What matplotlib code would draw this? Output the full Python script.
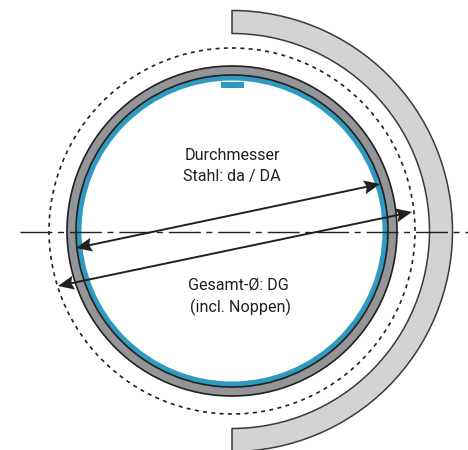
import matplotlib
matplotlib.use('Agg')
from matplotlib import pyplot as plt
from matplotlib.patches import Circle, Wedge, Rectangle, Polygon
import numpy as np

# Centre and radii in picture pixels
centre = (232, 231)
shellInner = 197.5
shellOuter = 220.5
dottedRadius = 183
ringOuter = 165
ringInner = 156
blueInner = 150.5

# Diameter arrows (start, end)
arrowSteel = ((76, 248), (380, 184))
arrowTotal = ((58, 286), (412, 212))
axisY = 232

labels = ['Durchmesser', 'Stahl: da / DA', 'Gesamt-Ø: DG', '(incl. Noppen)']
labelX = [232, 232, 238, 240]
labelY = [156, 177, 285, 307]

plt.rcParams['font.family'] = ['Roboto', 'DejaVu Sans']

dark = '#231f20'


# Notched arrow head with its tip on the line end
def AddHead(ax, tip, away):
    tip = np.array(tip, dtype=float)
    d = np.array(away, dtype=float) - tip
    d = d / np.hypot(*d)
    n = np.array([-d[1], d[0]])
    pts = [tip, tip + 16 * d + 7 * n, tip + 13.5 * d, tip + 16 * d - 7 * n]
    ax.add_patch(Polygon(pts, closed=True, facecolor=dark, edgecolor='none', zorder=8))
    return tip + 10 * d


fig = plt.figure(figsize=(4.68, 4.5), dpi=100)
ax = fig.add_axes([0, 0, 1, 1])
ax.set_xlim(0, 468)
ax.set_ylim(450, 0)
ax.axis('off')

# Outer half shell
ax.add_patch(Wedge(centre, shellOuter, -90, 90, width=shellOuter - shellInner,
                   facecolor='#d1d3d4', edgecolor='#3a3a3c', linewidth=1.1, zorder=1))

# Dotted envelope
ax.add_patch(Circle(centre, dottedRadius, fill=False, edgecolor=dark, linewidth=1.2,
                    linestyle=(0, (2.4, 2.6)), zorder=2))

# Pipe wall, blue lining
ax.add_patch(Circle(centre, ringOuter, facecolor='#939598', edgecolor=dark, linewidth=1.2, zorder=3))
ax.add_patch(Circle(centre, ringInner, facecolor='#2e9abf', edgecolor=dark, linewidth=1.2, zorder=4))
ax.add_patch(Circle(centre, blueInner, facecolor='white', edgecolor='none', zorder=5))
ax.add_patch(Rectangle((221, 81.5), 23, 6, facecolor='#2e9abf', edgecolor='none', zorder=6))

# Centre line
ax.plot([20, 468], [axisY, axisY], color=dark, linewidth=1.0,
        linestyle=(0, (23, 4, 4.3, 4.3)), zorder=7)

for start, end in (arrowSteel, arrowTotal):
    a = AddHead(ax, start, end)
    b = AddHead(ax, end, start)
    ax.plot([a[0], b[0]], [a[1], b[1]], color=dark, linewidth=1.4,
            solid_capstyle='butt', zorder=8)

for text, x, y in zip(labels, labelX, labelY):
    ax.text(x, y, text, fontsize=11.6, color=dark, ha='center', va='center', zorder=9)

fig.savefig('out.png', dpi=100)
